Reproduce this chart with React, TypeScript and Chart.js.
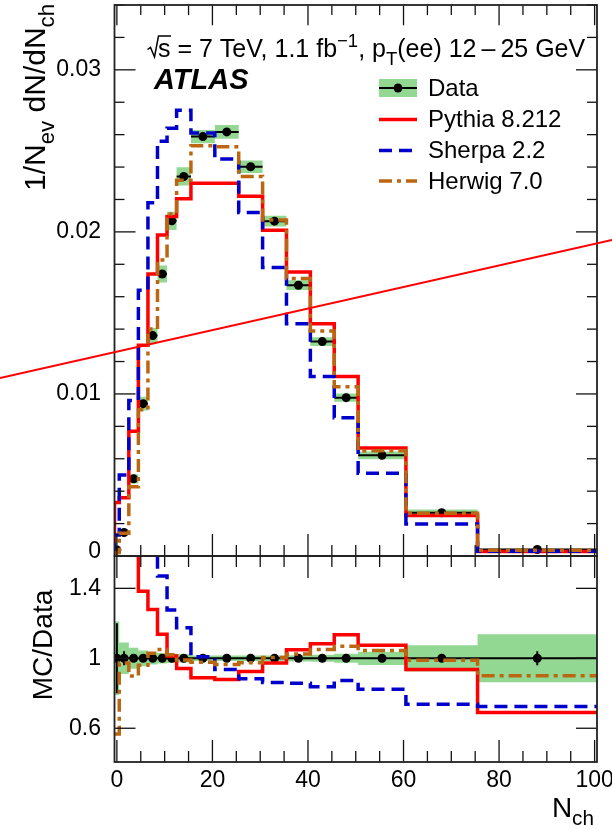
import { useEffect, useRef } from 'react';
import { Chart, registerables } from 'chart.js';

Chart.register(...registerables);

// N_ch binning (bin edges and centres)
const binEdges = [-0.5, 0.5, 2.5, 4.5, 6.5, 8.5, 10.5, 12.5, 15.5, 20.5, 25.5, 30.5, 35.5, 40.5, 45.5, 50.5, 60.5, 75.5, 100.5];
const binCenters = [0, 1.5, 3.5, 5.5, 7.5, 9.5, 11.5, 14, 18, 23, 28, 33, 38, 43, 48, 55.5, 68, 88];

// 1/Nev dN/dNch, unfolded data
const dataValues = [0.00037, 0.00145, 0.00476, 0.0094, 0.0136, 0.0174, 0.02068, 0.02342, 0.02588, 0.02617, 0.02402, 0.02066, 0.01671, 0.01323, 0.00977, 0.00621, 0.00267, 0.0004];
// relative statistical (bars) and total (band) uncertainties
const dataStatRel = [0.2, 0.04, 0.02, 0.012, 0.01, 0.008, 0.007, 0.006, 0.005, 0.005, 0.005, 0.006, 0.007, 0.008, 0.01, 0.012, 0.02, 0.04];
const dataTotalRel = [0.21, 0.09, 0.06, 0.045, 0.035, 0.03, 0.027, 0.024, 0.016, 0.016, 0.016, 0.016, 0.018, 0.02, 0.026, 0.038, 0.075, 0.137];

// generator predictions
const pythiaValues = [0.0033, 0.0036, 0.0077, 0.013, 0.0174, 0.0198, 0.02095, 0.02205, 0.023, 0.023, 0.0222, 0.0201, 0.01753, 0.01433, 0.01108, 0.00667, 0.0025, 0.000276];
const sherpaValues = [0.0013, 0.005, 0.0096, 0.0164, 0.0218, 0.0256, 0.0264, 0.0275, 0.0261, 0.0245, 0.0212, 0.0178, 0.01433, 0.01108, 0.00853, 0.00511, 0.00197, 0.00029];
const herwigValues = [0.00021, 0.00141, 0.00428, 0.00902, 0.014, 0.01827, 0.0211, 0.02319, 0.02531, 0.02525, 0.02342, 0.02074, 0.01713, 0.01389, 0.01045, 0.00649, 0.00264, 0.00036];

// axis ticks
const xMajorTicks = [0, 20, 40, 60, 80, 100];
const xMajorLabels = ['0', '20', '40', '60', '80', '100'];
const xMinorStep = 5;
const yMainTicks = [0, 0.01, 0.02, 0.03];
const yMainLabels = ['0', '0.01', '0.02', '0.03'];
const yMainMinorStep = 0.002;
const yRatioTicks = [0.6, 1, 1.4];
const yRatioLabels = ['0.6', '1', '1.4'];

const legendLabels = ['Data', 'Pythia 8.212', 'Sherpa 2.2', 'Herwig 7.0'];

// straight red guide line across the page (x in N_ch, y in 1/Nev dN/dNch)
const guideLine = [
  { x: -24.47, y: 0.01098 },
  { x: 103.64, y: 0.0195 },
];

const FONT = '"Liberation Sans", Arial, Helvetica, sans-serif';
const RED = '#ff0000';
const BLUE = '#0000cc';
const BROWN = '#bb6612';
const GREEN = 'rgb(146,216,146)';
const SHERPA_DASH = [13, 7];
const HERWIG_DASH = [13, 5, 4, 5];

type Pt = { x: number; y: number | null };

function stepLine(values: number[], fromZero: boolean): Pt[] {
  const pts: Pt[] = [];
  if (fromZero) pts.push({ x: binEdges[0], y: 0 });
  values.forEach((v, i) => pts.push({ x: binEdges[i], y: v }));
  pts.push({ x: binEdges[binEdges.length - 1], y: values[values.length - 1] });
  return pts;
}

function errorBars(values: number[], rel: number[]): Pt[] {
  const pts: Pt[] = [];
  values.forEach((v, i) => {
    pts.push({ x: binEdges[i], y: v }, { x: binEdges[i + 1], y: v }, { x: binCenters[i], y: null });
    pts.push({ x: binCenters[i], y: v * (1 - rel[i]) }, { x: binCenters[i], y: v * (1 + rel[i]) }, { x: binCenters[i], y: null });
  });
  return pts;
}

const toRatio = (vals: number[]) => vals.map((v, i) => v / dataValues[i]);
const ones = dataValues.map(() => 1);

function histogram(values: number[], axis: string, color: string, dash: number[], fromZero: boolean, order: number) {
  return {
    data: stepLine(values, fromZero),
    yAxisID: axis,
    borderColor: color,
    borderWidth: 3.5,
    borderDash: dash,
    borderJoinStyle: 'miter',
    borderCapStyle: 'butt',
    stepped: true,
    pointRadius: 0,
    fill: false,
    clip: false,
    order,
  };
}

function band(values: number[], rel: number[], axis: string) {
  const up = values.map((v, i) => v * (1 + rel[i]));
  const lo = values.map((v, i) => v * (1 - rel[i]));
  return [
    {
      data: stepLine(up, false),
      yAxisID: axis,
      borderColor: 'rgba(0,0,0,0)',
      borderWidth: 0,
      backgroundColor: GREEN,
      stepped: true,
      pointRadius: 0,
      fill: '+1',
      clip: false,
      order: 20,
    },
    {
      data: stepLine(lo, false),
      yAxisID: axis,
      borderColor: 'rgba(0,0,0,0)',
      borderWidth: 0,
      stepped: true,
      pointRadius: 0,
      fill: false,
      clip: false,
      order: 20,
    },
  ];
}

function dataSets(values: number[], axis: string) {
  return [
    {
      data: errorBars(values, dataStatRel),
      yAxisID: axis,
      borderColor: '#000',
      borderWidth: 2,
      pointRadius: 0,
      fill: false,
      clip: false,
      order: 15,
    },
    {
      data: values.map((v, i) => ({ x: binCenters[i], y: v })),
      yAxisID: axis,
      showLine: false,
      pointRadius: 4.5,
      pointBackgroundColor: '#000',
      pointBorderWidth: 0,
      clip: false,
      order: 14,
    },
  ];
}

type Part = { t: string; sub?: boolean; sup?: boolean };

function drawRich(ctx: CanvasRenderingContext2D, parts: Part[], x: number, y: number, size: number, draw = true, style = '') {
  let cx = x;
  for (const p of parts) {
    const s = p.sub || p.sup ? size * 0.74 : size;
    ctx.font = `${style}${s}px ${FONT}`;
    const dy = p.sub ? size * 0.3 : p.sup ? -size * 0.42 : 0;
    if (draw) ctx.fillText(p.t, cx, y + dy);
    cx += ctx.measureText(p.t).width;
  }
  return cx - x;
}

// keep each dataset inside its own panel
const panelClip = {
  id: 'panelClip',
  beforeDatasetDraw(chart: any, args: any) {
    const ds = chart.data.datasets[args.index];
    const ys = chart.scales[ds.yAxisID];
    const { left, right } = chart.chartArea;
    chart.ctx.save();
    chart.ctx.beginPath();
    chart.ctx.rect(left, ys.top, right - left, ys.bottom - ys.top);
    chart.ctx.clip();
  },
  afterDatasetDraw(chart: any) {
    chart.ctx.restore();
  },
};

// frames, inward ticks, labels, titles, legend and captions
const decorations = {
  id: 'decorations',
  afterDatasetsDraw(chart: any) {
    const ctx: CanvasRenderingContext2D = chart.ctx;
    const xs = chart.scales.x;
    const ym = chart.scales.yMain;
    const yr = chart.scales.yRatio;
    const L = chart.chartArea.left;
    const R = chart.chartArea.right;
    const seg = (x1: number, y1: number, x2: number, y2: number) => {
      ctx.beginPath();
      ctx.moveTo(x1, y1);
      ctx.lineTo(x2, y2);
      ctx.stroke();
    };
    ctx.save();
    ctx.setLineDash([]);
    ctx.lineCap = 'butt';

    // x ticks on both panels
    ctx.strokeStyle = '#111';
    ctx.lineWidth = 1.3;
    const xTick = (v: number, len: number) => {
      const px = xs.getPixelForValue(v);
      seg(px, ym.top, px, ym.top + len * 0.92);
      seg(px, ym.bottom, px, ym.bottom - len);
      seg(px, yr.top, px, yr.top + len);
      seg(px, yr.bottom, px, yr.bottom - len);
    };
    for (let v = 0; v <= 100; v += xMinorStep) {
      if (!xMajorTicks.includes(v)) xTick(v, 11);
    }
    xMajorTicks.forEach((v) => xTick(v, 22));

    // y ticks, mirrored on the right
    const yTick = (sc: any, v: number, len: number) => {
      const py = sc.getPixelForValue(v);
      seg(L, py, L + len, py);
      seg(R, py, R - len, py);
    };
    for (let k = 0; k * yMainMinorStep <= 0.034 + 1e-9; k++) {
      const v = k * yMainMinorStep;
      yTick(ym, v, k % 5 === 0 ? 21 : 10);
    }
    yRatioTicks.forEach((v) => yTick(yr, v, 21));

    // frames
    ctx.strokeStyle = '#222';
    ctx.lineWidth = 1.8;
    ctx.strokeRect(L, ym.top, R - L, ym.bottom - ym.top);
    ctx.strokeRect(L, yr.top, R - L, yr.bottom - yr.top);

    // tick labels
    ctx.fillStyle = '#000';
    ctx.font = `23px ${FONT}`;
    ctx.textAlign = 'right';
    ctx.textBaseline = 'middle';
    yMainTicks.forEach((v, i) => {
      const py = ym.getPixelForValue(v) - (v === 0 ? 4 : 0);
      ctx.fillText(yMainLabels[i], 101, py);
    });
    yRatioTicks.forEach((v, i) => ctx.fillText(yRatioLabels[i], 101, yr.getPixelForValue(v)));
    ctx.textAlign = 'center';
    xMajorTicks.forEach((v, i) => ctx.fillText(xMajorLabels[i], xs.getPixelForValue(v), 781));

    // axis titles
    ctx.textAlign = 'left';
    ctx.textBaseline = 'alphabetic';
    const yTitle: Part[] = [{ t: '1/N' }, { t: 'ev', sub: true }, { t: ' dN/dN' }, { t: 'ch', sub: true }];
    const wy = drawRich(ctx, yTitle, 0, 0, 30, false);
    ctx.save();
    ctx.translate(45, 4);
    ctx.rotate(-Math.PI / 2);
    drawRich(ctx, yTitle, -wy, 0, 30);
    ctx.restore();

    const rTitle: Part[] = [{ t: 'MC/Data' }];
    const wr = drawRich(ctx, rTitle, 0, 0, 28, false);
    ctx.save();
    ctx.translate(52, 645);
    ctx.rotate(-Math.PI / 2);
    drawRich(ctx, rTitle, -wr / 2, 0, 28);
    ctx.restore();

    const xTitle: Part[] = [{ t: 'N' }, { t: 'ch', sub: true }];
    const wx = drawRich(ctx, xTitle, 0, 0, 28, false);
    drawRich(ctx, xTitle, 594 - wx, 817, 28);

    // caption with radical sign
    ctx.strokeStyle = '#000';
    ctx.lineWidth = 1.5;
    ctx.beginPath();
    ctx.moveTo(147.5, 49.5);
    ctx.lineTo(150.5, 47.5);
    ctx.lineTo(154.5, 57);
    ctx.lineTo(158.5, 36);
    ctx.lineTo(171, 36);
    ctx.stroke();
    const caption: Part[] = [
      { t: 's = 7 TeV, 1.1 fb' },
      { t: '\u22121', sup: true },
      { t: ', p' },
      { t: 'T', sub: true },
      { t: '(ee) 12\u2009\u2013\u200925 GeV' },
    ];
    drawRich(ctx, caption, 158, 57, 25);

    ctx.font = `italic bold 29px ${FONT}`;
    ctx.fillText('ATLAS', 154, 89);

    // legend
    const lx1 = 379;
    const lx2 = 417;
    const rows = [88, 119.5, 150.5, 181];
    ctx.fillStyle = GREEN;
    ctx.fillRect(lx1, 79, lx2 - lx1, 18);
    ctx.strokeStyle = '#000';
    ctx.lineWidth = 2;
    seg(lx1, rows[0], lx2, rows[0]);
    ctx.fillStyle = '#000';
    ctx.beginPath();
    ctx.arc((lx1 + lx2) / 2, rows[0], 4.5, 0, Math.PI * 2);
    ctx.fill();
    const lineStyles: [string, number[]][] = [
      [RED, []],
      [BLUE, SHERPA_DASH],
      [BROWN, HERWIG_DASH],
    ];
    ctx.lineWidth = 3.5;
    lineStyles.forEach(([c, d], i) => {
      ctx.strokeStyle = c;
      ctx.setLineDash(d);
      seg(lx1, rows[i + 1], lx2, rows[i + 1]);
    });
    ctx.setLineDash([]);
    ctx.fillStyle = '#000';
    ctx.font = `24px ${FONT}`;
    ctx.textBaseline = 'middle';
    legendLabels.forEach((t, i) => ctx.fillText(t, 428, rows[i] + 1));

    // red guide line over everything
    ctx.strokeStyle = RED;
    ctx.lineWidth = 2;
    seg(
      xs.getPixelForValue(guideLine[0].x),
      ym.getPixelForValue(guideLine[0].y),
      xs.getPixelForValue(guideLine[1].x),
      ym.getPixelForValue(guideLine[1].y),
    );
    ctx.restore();
  },
};

export default function App() {
  const ref = useRef<HTMLCanvasElement>(null);

  useEffect(() => {
    const canvas = ref.current;
    if (!canvas) return;
    const datasets: any[] = [
      ...band(dataValues, dataTotalRel, 'yMain'),
      ...band(ones, dataTotalRel, 'yRatio'),
      ...dataSets(dataValues, 'yMain'),
      ...dataSets(ones, 'yRatio'),
      histogram(pythiaValues, 'yMain', RED, [], true, 5),
      histogram(sherpaValues, 'yMain', BLUE, SHERPA_DASH, true, 4),
      histogram(herwigValues, 'yMain', BROWN, HERWIG_DASH, true, 3),
      histogram(toRatio(pythiaValues), 'yRatio', RED, [], false, 5),
      histogram(toRatio(sherpaValues), 'yRatio', BLUE, SHERPA_DASH, false, 4),
      histogram(toRatio(herwigValues), 'yRatio', BROWN, HERWIG_DASH, false, 3),
    ];
    const chart = new Chart(canvas, {
      type: 'line',
      data: { datasets },
      options: {
        responsive: false,
        animation: false,
        devicePixelRatio: 1,
        events: [],
        layout: { padding: { left: 114.5, right: 15, top: 5, bottom: 67 } },
        plugins: { legend: { display: false }, tooltip: { enabled: false } },
        scales: {
          x: { type: 'linear', min: -0.5, max: 100.5, display: false },
          yRatio: {
            type: 'linear',
            position: 'left',
            stack: 'panels',
            stackWeight: 206,
            weight: 1,
            min: 0.407,
            max: 1.585,
            display: false,
          },
          yMain: {
            type: 'linear',
            position: 'left',
            stack: 'panels',
            stackWeight: 551,
            weight: 2,
            min: 0,
            max: 0.034,
            display: false,
          },
        },
      } as any,
      plugins: [panelClip, decorations],
    });
    return () => chart.destroy();
  }, []);

  return (
    <div style={{ position: 'absolute', left: 0, top: 0, width: 612, height: 829, background: '#fff' }}>
      <canvas ref={ref} width={612} height={829} style={{ display: 'block' }} />
    </div>
  );
}
